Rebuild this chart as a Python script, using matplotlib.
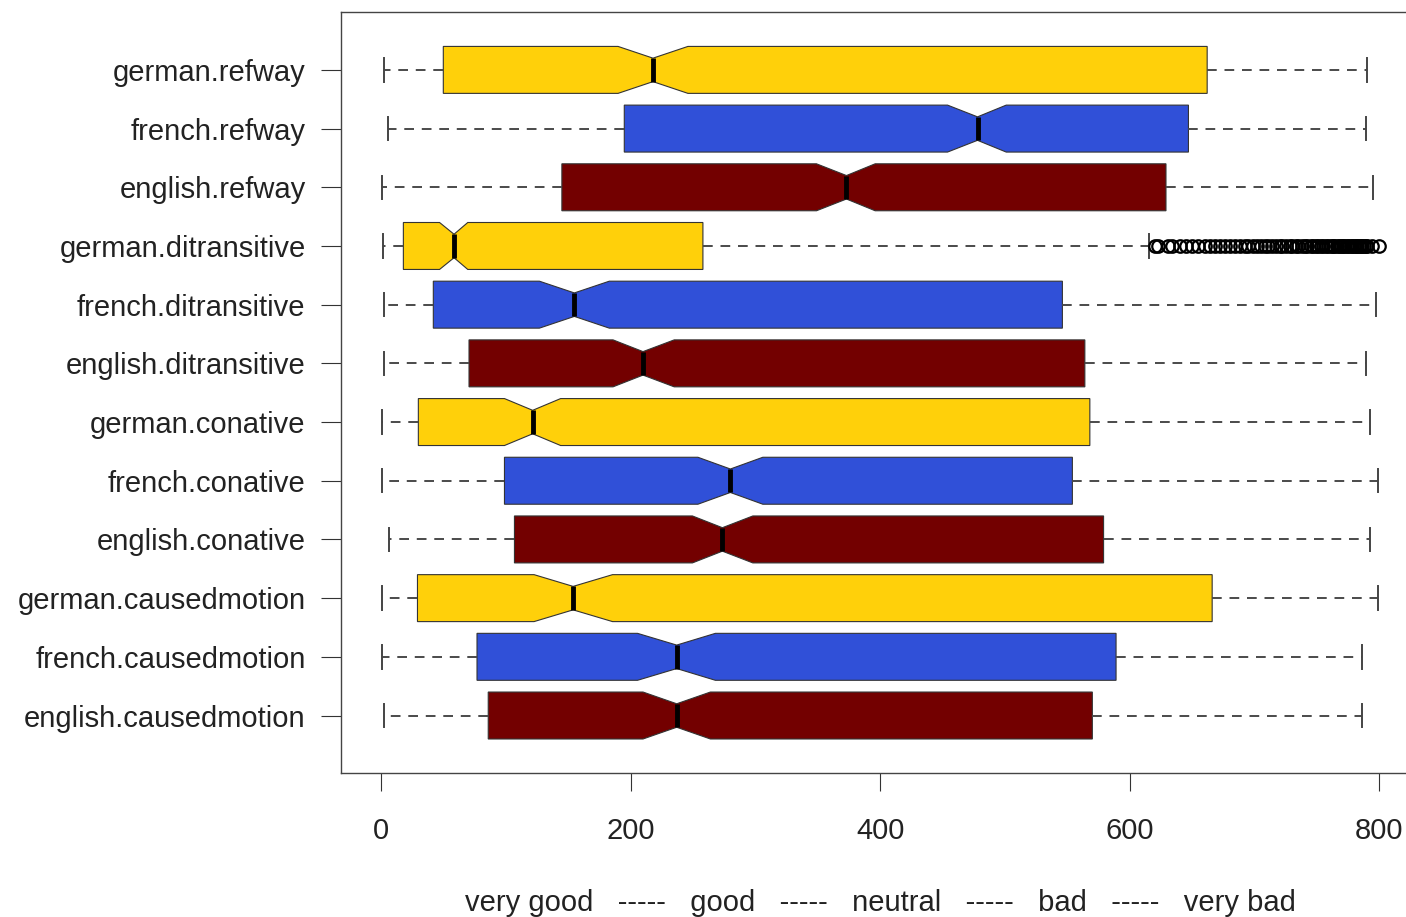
import matplotlib
matplotlib.use('Agg')
import matplotlib.pyplot as plt

plt.rcParams['font.family'] = ['Liberation Sans', 'DejaVu Sans']

# rows from bottom to top
labels = ['english.causedmotion', 'french.causedmotion', 'german.causedmotion',
          'english.conative', 'french.conative', 'german.conative',
          'english.ditransitive', 'french.ditransitive', 'german.ditransitive',
          'english.refway', 'french.refway', 'german.refway']
whislo = [2.7, 1, 1, 6.6, 1, 1, 2.7, 2.7, 1.6, 1, 5.6, 2.4]
q1 = [86, 77, 29.3, 107, 99, 30, 70.6, 42, 18, 145, 195, 50]
cilo = [210, 205.6, 122.7, 249.6, 254, 99, 186, 127, 47, 349, 454, 190]
med = [237, 237, 154, 273.6, 280, 121.6, 210, 155, 58.6, 373, 478, 218]
cihi = [264, 268, 185.6, 298, 306, 144, 235, 183, 69.6, 396, 501, 246]
q3 = [570, 589, 666, 579, 554, 568, 564, 546, 258, 629, 647, 662]
whishi = [786, 786, 799, 792.5, 799, 792.5, 789, 797, 615, 795, 789, 790]
# outliers only for german.ditransitive
outl_german_ditr = [620, 623, 631, 634, 640, 645, 650, 655, 660, 664, 668, 672, 676, 680,
                    684, 688, 692, 695, 699, 702, 705, 708, 711, 714, 717, 720, 722, 725,
                    728, 730, 733, 735, 738, 740, 742, 745, 747, 749, 751, 753, 755, 757,
                    759, 761, 763, 764, 766, 768, 769, 771, 772, 774, 775, 777, 778, 780,
                    781, 782, 784, 785, 786, 788, 789, 790, 794, 800]
colors = ['#730000', '#3050d8', '#ffd00a'] * 4

stats = []
for i in range(len(labels)):
    stats.append({'label': labels[i], 'whislo': whislo[i], 'q1': q1[i], 'med': med[i],
                  'q3': q3[i], 'whishi': whishi[i], 'cilo': cilo[i], 'cihi': cihi[i],
                  'fliers': outl_german_ditr if labels[i] == 'german.ditransitive' else []})

fig = plt.figure(figsize=(14.06, 9.17), dpi=100)
ax = fig.add_axes([0.2425, 0.157, 0.767, 0.8295])

bp = ax.bxp(stats, positions=range(1, len(labels) + 1), widths=0.8, orientation='horizontal',
            shownotches=True, patch_artist=True,
            boxprops=dict(edgecolor='#333333', linewidth=0.8),
            medianprops=dict(color='black', linewidth=3.5, solid_capstyle='butt'),
            whiskerprops=dict(color='#4a4a4a', linewidth=1.4, linestyle=(0, (5, 4))),
            capprops=dict(color='#444444', linewidth=1.4),
            flierprops=dict(marker='o', markerfacecolor='none', markeredgecolor='black',
                            markersize=9, markeredgewidth=1.6))
for patch, c in zip(bp['boxes'], colors):
    patch.set_facecolor(c)

ax.set_xlim(-32, 832)
ax.set_ylim(0.02, 12.98)
ax.set_xticks([0, 200, 400, 600, 800])
ax.set_yticks(range(1, len(labels) + 1))
ax.set_yticklabels(labels)
ax.tick_params(axis='y', length=14.5, pad=11, labelsize=21, colors='#333333', labelcolor='#222222')
ax.tick_params(axis='x', length=13, pad=19, labelsize=21, colors='#333333', labelcolor='#222222')
for s in ax.spines.values():
    s.set_color('#444444')
    s.set_linewidth(1.0)
ax.set_xlabel('very good   -----   good   -----   neutral   -----   bad   -----   very bad',
              fontsize=21, color='#222222', labelpad=31)

fig.savefig('out.png', dpi=100)
